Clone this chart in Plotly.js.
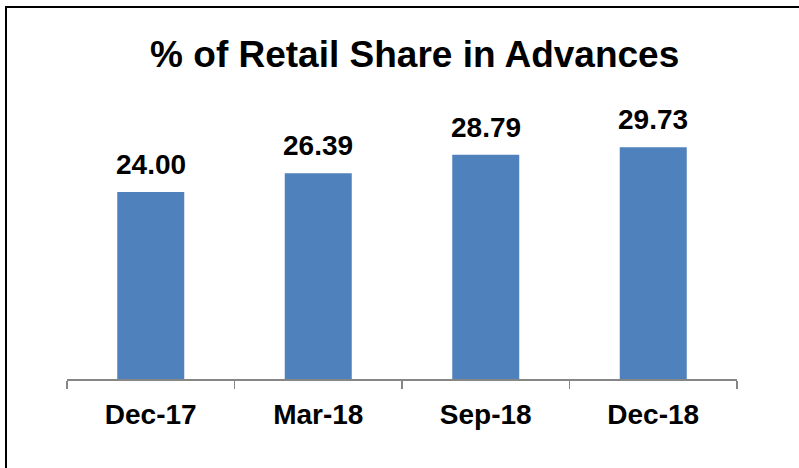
<!DOCTYPE html>
<html>
<head>
<meta charset="utf-8">
<script src="https://cdn.plot.ly/plotly-3.0.1.min.js"></script>
<style>
html,body{margin:0;padding:0;background:#fff;overflow:hidden;}
#chart{position:absolute;left:0;top:0;width:799px;height:468px;}
#frame{position:absolute;left:5px;top:6px;width:810px;height:480px;border-top:2px solid #000;border-left:2px solid #000;pointer-events:none;}
</style>
</head>
<body>
<div id="chart"></div>
<div id="frame"></div>
<script>
const categories = ["Dec-17", "Mar-18", "Sep-18", "Dec-18"];
const retailShare = [24.00, 26.39, 28.79, 29.73];
const chartTitle = "% of Retail Share in Advances";

const trace = {
  type: "bar",
  x: categories,
  y: retailShare,
  marker: {color: "#4F81BD"},
  hoverinfo: "none"
};

const annotations = categories.map((c, i) => ({
  x: c, y: retailShare[i], xref: "x", yref: "y",
  text: "<b>" + retailShare[i].toFixed(2) + "</b>",
  showarrow: false, yanchor: "bottom", yshift: 10,
  font: {family: "'Liberation Sans', Arial, sans-serif", size: 28, color: "#000"}
}));

const layout = {
  width: 799, height: 468,
  margin: {l: 67, r: 62, t: 100, b: 89},
  paper_bgcolor: "#fff", plot_bgcolor: "#fff",
  bargap: 0.6,
  showlegend: false,
  title: {
    text: "<b>" + chartTitle + "</b>",
    x: 0.519, xref: "container", xanchor: "center",
    y: 0.884, yref: "container", yanchor: "middle",
    font: {family: "'Liberation Sans', Arial, sans-serif", size: 37, color: "#000"}
  },
  xaxis: {
    type: "category",
    showline: true, linecolor: "#868686", linewidth: 1.5,
    ticks: "outside", tickson: "boundaries", ticklen: 8, tickcolor: "#868686", tickwidth: 1.5,
    ticklabelstandoff: 10,
    tickfont: {family: "'Liberation Sans', Arial, sans-serif", size: 28, color: "#000", weight: 700},
    showgrid: false, zeroline: false, fixedrange: true
  },
  yaxis: {
    range: [0, 35.8], visible: false, showgrid: false, zeroline: false, fixedrange: true
  },
  annotations: annotations
};

Plotly.newPlot("chart", [trace], layout, {displayModeBar: false, staticPlot: true});
</script>
</body>
</html>
